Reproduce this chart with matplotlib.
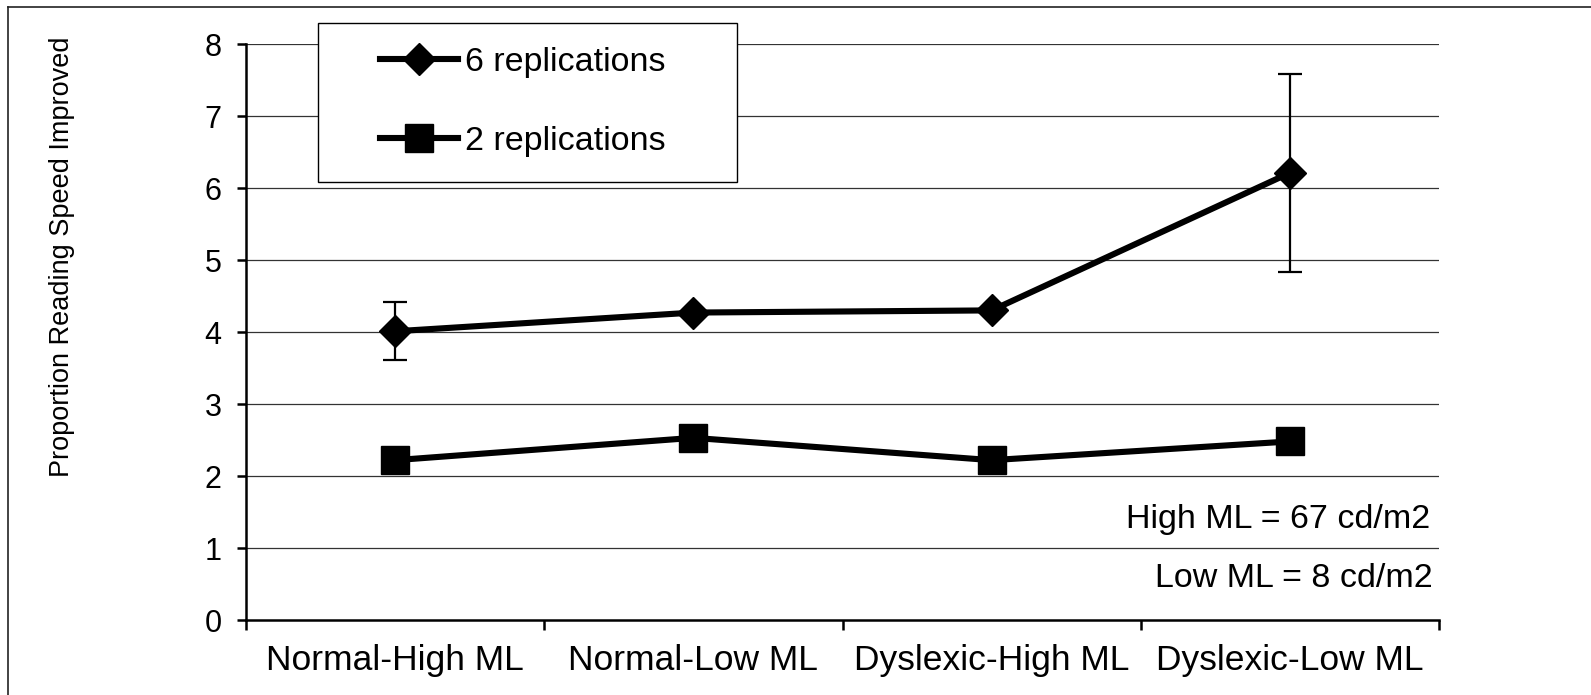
import matplotlib
matplotlib.use("Agg")
import matplotlib.pyplot as plt
from matplotlib.patches import Rectangle
from matplotlib.lines import Line2D
import numpy as np

plt.rcParams['font.family'] = ['Liberation Sans', 'DejaVu Sans']

# Conditions and measured values
categories = ["Normal-High ML", "Normal-Low ML", "Dyslexic-High ML", "Dyslexic-Low ML"]
six_reps = [4.01, 4.27, 4.30, 6.21]
six_reps_err = [0.40, 0.0, 0.0, 1.38]
two_reps = [2.22, 2.53, 2.22, 2.48]
y_ticks = [0, 1, 2, 3, 4, 5, 6, 7, 8]
notes = ["High ML = 67 cd/m2", "Low ML = 8 cd/m2"]

W, H = 1591, 695
fig = plt.figure(figsize=(W / 100, H / 100), dpi=100)
ax = fig.add_axes([246 / W, 1 - 620 / H, (1439 - 246) / W, (620 - 44) / H])

x = np.arange(len(categories)) + 0.5

# horizontal gridlines
for yv in y_ticks[1:]:
    ax.axhline(yv, color="#333333", lw=0.9, zorder=1)

# error bars (only where an error was reported)
err_idx = [i for i, e in enumerate(six_reps_err) if e > 0]
ax.errorbar(x[err_idx], np.array(six_reps)[err_idx],
            yerr=np.array(six_reps_err)[err_idx], fmt="none",
            ecolor="black", elinewidth=1.6, capsize=8.5, capthick=1.6, zorder=2)

ax.plot(x, six_reps, color="black", lw=4.4, marker="D", ms=16.5,
        mec="black", mew=1, zorder=3, label="6 replications")
ax.plot(x, two_reps, color="black", lw=4.4, marker="s", ms=20,
        mec="black", mew=1, zorder=3, label="2 replications")

ax.set_xlim(0, len(categories))
ax.set_ylim(0, 8)
ax.set_yticks(y_ticks)
ax.set_yticklabels([str(v) for v in y_ticks], fontsize=22)
ax.tick_params(axis="y", direction="out", length=6.5, width=1.8, pad=11)

# boundary ticks on the category axis, labels centered between them
ax.set_xticks(np.arange(len(categories) + 1))
ax.set_xticklabels([])
ax.set_xticks(x, minor=True)
ax.set_xticklabels(categories, minor=True, fontsize=25.5)
ax.tick_params(axis="x", which="major", direction="out", length=7, width=1.8)
ax.tick_params(axis="x", which="minor", length=0, pad=17)

for s in ["top", "right"]:
    ax.spines[s].set_visible(False)
for s in ["left", "bottom"]:
    ax.spines[s].set_linewidth(1.8)

ax.text(3.970, 1.278, notes[0], ha="right", va="baseline", fontsize=24.5)
ax.text(3.980, 0.458, notes[1], ha="right", va="baseline", fontsize=24.5)

fig.text(62 / W, 1 - 257 / H, "Proportion Reading Speed Improved",
         rotation=90, ha="center", va="center", fontsize=19.5)

# legend box
box = Rectangle((318 / W, 1 - 182 / H), (737 - 318) / W, (182 - 23) / H,
                transform=fig.transFigure, facecolor="white",
                edgecolor="black", lw=1.0, zorder=4, clip_on=False)
ax.add_patch(box)
leg = ax.legend(loc="upper left", bbox_to_anchor=(380 / W, 1 - 47 / H),
                bbox_transform=fig.transFigure, frameon=False, fontsize=24.5,
                handlelength=2.3, handletextpad=0.2, labelspacing=1.42,
                borderpad=0, borderaxespad=0)
leg.set_zorder(5)

# outer frame
fig.add_artist(Line2D([8 / W, 1], [1 - 7 / H, 1 - 7 / H], color="#222222", lw=1.2,
                      transform=fig.transFigure))
fig.add_artist(Line2D([8 / W, 8 / W], [0, 1 - 7 / H], color="#222222", lw=1.2,
                      transform=fig.transFigure))

fig.savefig("out.png", dpi=100)
